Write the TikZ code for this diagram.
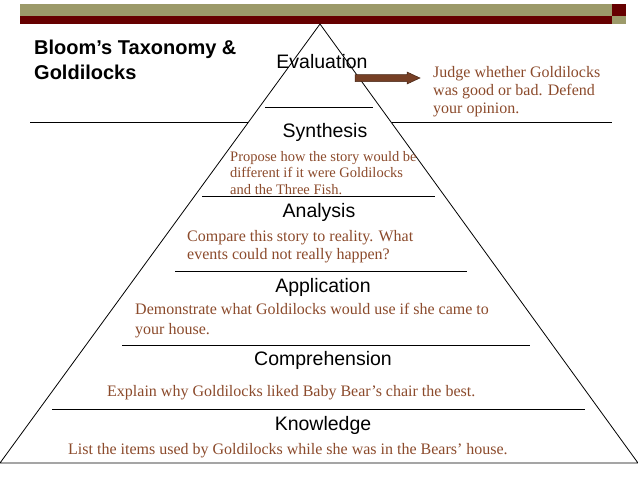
\documentclass[tikz,border=0pt]{standalone}
\usepackage{fontspec}
\setmainfont{Liberation Serif}
\newfontfamily\lsans{Liberation Sans}
\begin{document}
\begin{tikzpicture}[x=1pt,y=-1pt,
  lvl/.style={font=\lsans\fontsize{19.5}{22}\selectfont,inner sep=0pt},
  desc/.style={font=\fontsize{16}{18}\selectfont,text=brn,inner sep=0pt,anchor=west,align=left},
  ln/.style={line width=0.8pt}]
\definecolor{olive}{HTML}{9C9A6A}
\definecolor{dred}{HTML}{660000}
\definecolor{brn}{HTML}{8B4A2B}
\useasboundingbox (0,0) rectangle (638,479);
\fill[olive] (20,4) rectangle (612,16);
\fill[dred] (20,16) rectangle (612,24);
\fill[dred] (612,4) rectangle (626,16);
\fill[olive] (612,16) rectangle (626,24);
\coordinate (apex) at (320,24);
\coordinate (bl) at (0,463);
\coordinate (br) at (638,463);
\draw[ln] (bl) -- (apex) -- (br) -- (bl);
\draw[ln] (265,107) -- (373,107);
\draw[ln] (30,122) -- (248,122);
\draw[ln] (392,122) -- (612,122);
\draw[ln] (202,196) -- (435,196);
\draw[ln] (175,271) -- (467,271);
\draw[ln] (122,345) -- (530,345);
\draw[ln] (52,409) -- (585,409);
\node[font=\lsans\bfseries\fontsize{20}{25}\selectfont,anchor=west,align=left,inner sep=0pt] (title) at (34,59.5) {Bloom’s Taxonomy \&\\Goldilocks};
\node[lvl] (ev) at (322,62) {Evaluation};
\node[lvl] (sy) at (325,132) {Synthesis};
\node[lvl] (an) at (319,212) {Analysis};
\node[lvl] (ap) at (323,287) {Application};
\node[lvl] (co) at (323,360) {Comprehension};
\node[lvl] (kn) at (323,425) {Knowledge};
\node[desc,font=\fontsize{14.5}{16.5}\selectfont] (d1) at (230,173) {Propose how the story would be\\different if it were Goldilocks\\and the Three Fish.};
\node[desc] (d2) at (187,247) {Compare this story to reality. What\\events could not really happen?};
\node[desc,font=\fontsize{16}{20}\selectfont] (d3) at (135,321) {Demonstrate what Goldilocks would use if she came to\\your house.};
\node[desc] (d4) at (107,393) {Explain why Goldilocks liked Baby Bear’s chair the best.};
\node[desc] (d5) at (68,451) {List the items used by Goldilocks while she was in the Bears’ house.};
\node[desc] (d0) at (433,92) {Judge whether Goldilocks\\was good or bad. Defend\\your opinion.};
\draw[fill=brn!85!black,draw=brn!50!black,line width=0.5pt]
  (355,74.5) -- (407,74.5) -- (407,72) -- (420,78) -- (407,84) -- (407,81.5) -- (355,81.5) -- cycle;
\end{tikzpicture}
\end{document}
